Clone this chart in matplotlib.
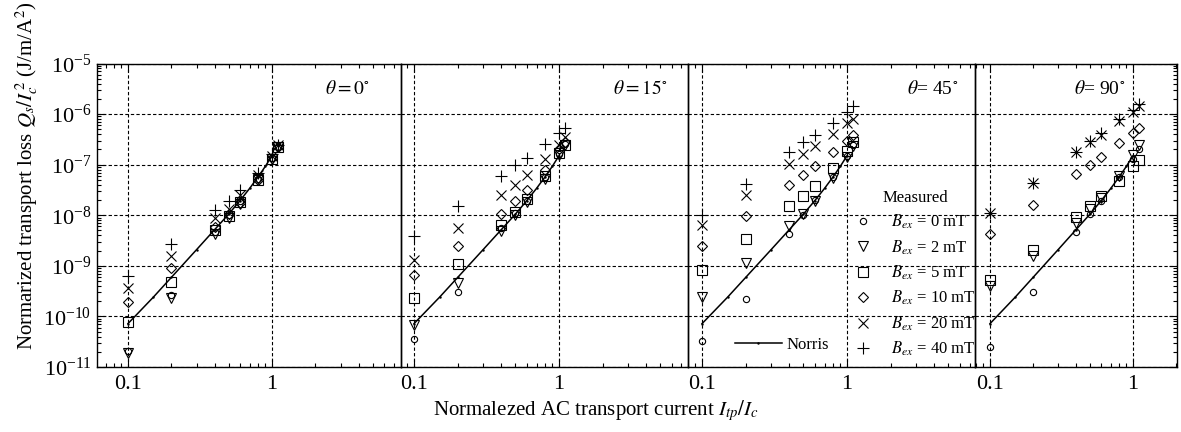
import numpy as np
import matplotlib
matplotlib.use('Agg')
import matplotlib.pyplot as plt
from matplotlib.ticker import LogLocator, NullFormatter

plt.rcParams['font.family'] = ['Liberation Serif', 'DejaVu Serif']
plt.rcParams['mathtext.fontset'] = 'stix'

# ---------------- data ----------------
current = [0.1, 0.2, 0.4, 0.5, 0.6, 0.8, 1.0, 1.1]
fields = [0, 2, 5, 10, 20, 40]  # mT
angles = [0, 15, 45, 90]

norris_x = [0.1, 0.15, 0.2, 0.3, 0.4, 0.5, 0.6, 0.7, 0.8, 0.9, 1.0]
norris_q = [7.2e-11, 2.4e-10, 5.9e-10, 2.1e-9, 5.2e-9, 1.05e-8, 1.95e-8, 3.4e-8, 5.7e-8, 9.3e-8, 1.5e-7]

theta0 = {
    0:  [2.1e-11, 2.6e-10, 4.7e-9, 1.0e-8, 1.9e-8, 5.1e-8, 1.35e-7, 2.2e-7],
    2:  [1.86e-11, 2.3e-10, 4.2e-9, 9.0e-9, 1.65e-8, 5.1e-8, 1.3e-7, 2.2e-7],
    5:  [7.9e-11, 4.8e-10, 5.0e-9, 9.8e-9, 1.8e-8, 4.9e-8, 1.27e-7, 2.2e-7],
    10: [1.9e-10, 9.1e-10, 5.9e-9, 1.08e-8, 1.75e-8, 5.0e-8, 1.37e-7, 2.2e-7],
    20: [3.6e-10, 1.6e-9, 9.0e-9, 1.3e-8, 2.56e-8, 6.35e-8, 1.5e-7, 2.4e-7],
    40: [6.4e-10, 2.7e-9, 1.26e-8, 1.9e-8, 3.1e-8, 6.9e-8, 1.6e-7, 2.5e-7],
}
theta15 = {
    0:  [3.6e-11, 3.0e-10, 5.5e-9, 1.1e-8, 1.9e-8, 5.6e-8, 1.6e-7, 2.6e-7],
    2:  [6.7e-11, 4.5e-10, 4.8e-9, 1.02e-8, 1.8e-8, 5.3e-8, 1.53e-7, 2.5e-7],
    5:  [2.3e-10, 1.1e-9, 6.3e-9, 1.17e-8, 2.1e-8, 5.9e-8, 1.72e-7, 2.5e-7],
    10: [6.6e-10, 2.5e-9, 1.07e-8, 1.9e-8, 3.1e-8, 7.8e-8, 2.07e-7, 2.8e-7],
    20: [1.3e-9, 5.7e-9, 2.5e-8, 4.05e-8, 6.3e-8, 1.27e-7, 2.45e-7, 3.5e-7],
    40: [3.9e-9, 1.5e-8, 6.1e-8, 9.8e-8, 1.37e-7, 2.6e-7, 4.3e-7, 5.4e-7],
}
theta45 = {
    0:  [3.2e-11, 2.2e-10, 4.3e-9, 1.0e-8, 2.0e-8, 5.6e-8, 1.5e-7, 2.4e-7],
    2:  [2.4e-10, 1.16e-9, 6.0e-9, 1.05e-8, 1.9e-8, 5.4e-8, 1.45e-7, 2.3e-7],
    5:  [8.3e-10, 3.4e-9, 1.49e-8, 2.4e-8, 3.8e-8, 8.5e-8, 1.88e-7, 2.75e-7],
    10: [2.5e-9, 9.8e-9, 4.0e-8, 6.3e-8, 9.2e-8, 1.77e-7, 2.96e-7, 3.8e-7],
    20: [6.4e-9, 2.5e-8, 1.04e-7, 1.6e-7, 2.3e-7, 4.1e-7, 6.6e-7, 7.95e-7],
    40: [1.0e-8, 4.1e-8, 1.77e-7, 2.75e-7, 3.9e-7, 6.8e-7, 1.1e-6, 1.42e-6],
}
theta90 = {
    0:  [2.5e-11, 3.1e-10, 4.75e-9, 1.06e-8, 1.9e-8, 5.6e-8, 1.3e-7, 2.0e-7],
    2:  [4.0e-10, 1.57e-9, 6.95e-9, 1.3e-8, 2.2e-8, 6.0e-8, 1.57e-7, 2.5e-7],
    5:  [5.2e-10, 2.1e-9, 9.4e-9, 1.5e-8, 2.35e-8, 4.65e-8, 9.2e-8, 1.26e-7],
    10: [4.2e-9, 1.6e-8, 6.5e-8, 1.0e-7, 1.45e-7, 2.67e-7, 4.3e-7, 5.3e-7],
    20: [1.13e-8, 4.4e-8, 1.82e-7, 2.8e-7, 3.9e-7, 7.2e-7, 1.08e-6, 1.42e-6],
    40: [1.13e-8, 4.4e-8, 1.82e-7, 2.9e-7, 4.3e-7, 8.0e-7, 1.22e-6, 1.6e-6],
}
panels = [theta0, theta15, theta45, theta90]

# ---------------- styles ----------------
markers = {0: ('o', 4.5), 2: ('v', 7.0), 5: ('s', 6.6), 10: ('D', 4.8), 20: ('x', 7.2), 40: ('+', 8.2)}

W, H = 1181, 432
fig = plt.figure(figsize=(W / 100, H / 100), dpi=100)


def fx(px):
    return px / W


def fy(py):
    return 1 - py / H


panel_px = [(97, 401), (401, 688), (688, 975), (975, 1177)]
top_px, bot_px = 63.5, 367
xlims = [(10 ** -1.215, 10 ** 0.896), (10 ** -1.09, 10 ** 0.89),
         (10 ** -1.097, 10 ** 0.883), (10 ** -1.105, 10 ** 0.308)]
theta_pos = [370, 667, 958, 1125]
theta_txt = [r'$\theta = 0^{\circ}$', r'$\theta = 15^{\circ}$', r'$\theta$= 45$^{\circ}$', r'$\theta$= 90$^{\circ}$']

axes = []
for i, (l, r) in enumerate(panel_px):
    ax = fig.add_axes([fx(l), fy(bot_px), (r - l) / W, (bot_px - top_px) / H])
    axes.append(ax)
    ax.set_xscale('log')
    ax.set_yscale('log')
    ax.set_xlim(*xlims[i])
    ax.set_ylim(1e-11, 1e-5)
    ax.set_facecolor('none')

    ax.plot(norris_x, norris_q, color='black', lw=1.1, marker='.', ms=1.5, label='Norris', zorder=3)
    data = panels[i]
    for b in fields:
        m, ms = markers[b]
        ax.plot(current, data[b], linestyle='none', marker=m, ms=ms, mfc='none', mec='black',
                mew=0.8, label=r'$B_{ex}$ = %d mT' % b, zorder=4)

    ax.set_xticks([0.1, 1])
    ax.set_xticklabels(['0.1', '1'])
    ax.xaxis.set_minor_locator(LogLocator(base=10, subs=np.arange(2, 10), numticks=20))
    ax.xaxis.set_minor_formatter(NullFormatter())
    ax.yaxis.set_major_locator(LogLocator(base=10, numticks=20))
    ax.yaxis.set_minor_locator(LogLocator(base=10, subs=np.arange(2, 10), numticks=20))
    ax.yaxis.set_minor_formatter(NullFormatter())

    ax.grid(which='major', linestyle=(0, (3, 2)), color='black', linewidth=0.8)
    ax.tick_params(which='both', direction='in', top=True, bottom=True,
                   left=(i == 0), right=(i == 3), labelleft=(i == 0), labelright=False,
                   labelsize=16, width=0.8)
    ax.tick_params(axis='x', which='major', pad=6)
    ax.tick_params(axis='y', which='major', pad=4)
    ax.tick_params(which='major', length=6)
    ax.tick_params(which='minor', length=3)
    for s in ax.spines.values():
        s.set_linewidth(1.0)

    fig.text(fx(theta_pos[i]), fy(89), theta_txt[i], ha='right', va='center', fontsize=14)

# legends in third panel
ax3 = axes[2]
handles, labels = ax3.get_legend_handles_labels()
leg1 = ax3.legend(handles[1:], labels[1:], title='Measured', loc='center',
                  bbox_to_anchor=(fx(915), fy(274)), bbox_transform=fig.transFigure,
                  frameon=False, fontsize=12, title_fontsize=12, handlelength=1.0,
                  handletextpad=1.2, labelspacing=0.42, borderpad=0.2)
ax3.add_artist(leg1)
ax3.legend(handles[:1], labels[:1], loc='center',
           bbox_to_anchor=(fx(782), fy(345)), bbox_transform=fig.transFigure,
           frameon=False, fontsize=12, handlelength=2.8, handletextpad=0.3, borderpad=0.2)

fig.text(fx(27), fy(176), r'Normarized transport loss $Q_s/I_c^{\,2}$ (J/m/A$^2$)',
         rotation=90, ha='center', va='center', fontsize=15)
fig.text(fx(596), fy(411), r'Normalezed AC transport current $I_{tp}/I_c$',
         ha='center', va='center', fontsize=15)

fig.savefig('out.png', dpi=100)
